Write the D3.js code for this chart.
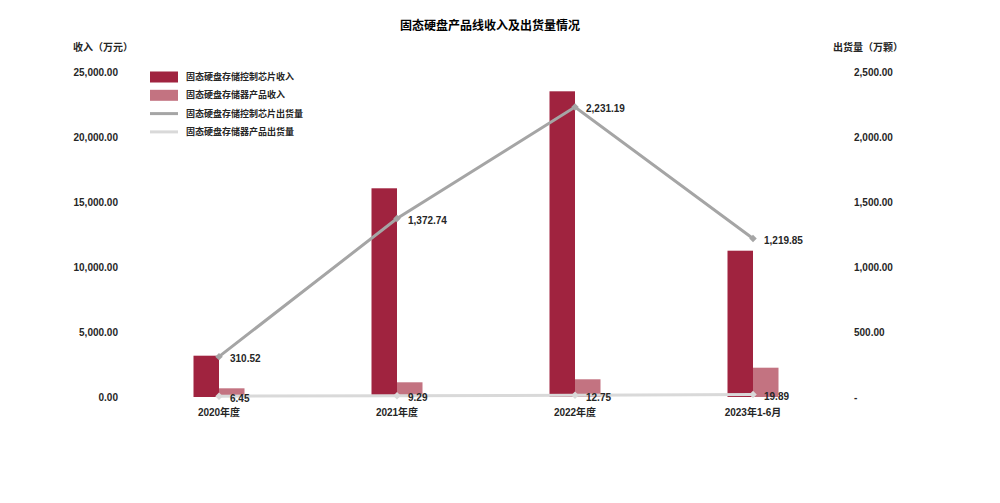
<!DOCTYPE html>
<html>
<head>
<meta charset="utf-8">
<script src="https://cdn.jsdelivr.net/npm/d3@7"></script>
<style>
  body { margin: 0; background: #fff; }
  svg text { font-family: "Liberation Sans", "Noto Sans CJK SC", sans-serif; font-weight: bold; fill: #262626; }
</style>
</head>
<body>
<div id="chart"></div>
<script>
// categories and series
var years = ["2020年度", "2021年度", "2022年度", "2023年1-6月"];
var chipRevenue = [3177, 16054, 23515, 11254];      // 万元
var storageRevenue = [669, 1131, 1362, 2254];       // 万元
var chipShipments = [310.52, 1372.74, 2231.19, 1219.85];   // 万颗
var storageShipments = [6.45, 9.29, 12.75, 19.89];         // 万颗
var leftTicks = [0, 5000, 10000, 15000, 20000, 25000];
var rightTicks = [0, 500, 1000, 1500, 2000, 2500];
var seriesNames = ["固态硬盘存储控制芯片收入", "固态硬盘存储器产品收入", "固态硬盘存储控制芯片出货量", "固态硬盘存储器产品出货量"];

var colDark = "#a0233f", colLight = "#c37381", colGrey = "#a5a5a5", colPale = "#d9d9d9";

var svg = d3.select("#chart").append("svg")
    .attr("width", 1000)
    .attr("height", 503);

var x = d3.scaleBand().domain(years).range([130, 842]).padding(0);
var yL = d3.scaleLinear().domain([0, 25000]).range([397, 72]);
var yR = d3.scaleLinear().domain([0, 2500]).range([397, 72]);
var fmt = d3.format(",.2f");
var barW = 25.5;
function cx(d) { return x(d) + x.bandwidth() / 2; }

// title
svg.append("text").attr("x", 490).attr("y", 30).attr("text-anchor", "middle")
    .style("font-size", "12px").style("fill", "#000").text("固态硬盘产品线收入及出货量情况");

// axis titles
svg.append("text").attr("x", 73).attr("y", 51).style("font-size", "10px").text("收入（万元）");
svg.append("text").attr("x", 833).attr("y", 51).style("font-size", "10px").text("出货量（万颗）");

// axes
var gl = svg.append("g").attr("transform", "translate(118,0)")
    .call(d3.axisLeft(yL).tickValues(leftTicks).tickSize(0).tickPadding(0).tickFormat(fmt));
var gr = svg.append("g").attr("transform", "translate(854,0)")
    .call(d3.axisRight(yR).tickValues(rightTicks).tickSize(0).tickPadding(0)
        .tickFormat(function(d) { return d === 0 ? "-" : fmt(d); }));
var gx = svg.append("g").attr("transform", "translate(0,409)")
    .call(d3.axisBottom(x).tickSize(0).tickPadding(0));
[gl, gr, gx].forEach(function(g) {
    g.select(".domain").remove();
    g.selectAll("text").style("font-size", "10px").style("font-family", null).attr("fill", null);
});

// bars
svg.append("g").selectAll("rect").data(years).join("rect")
    .attr("x", function(d) { return cx(d) - barW; })
    .attr("y", function(d, i) { return yL(chipRevenue[i]); })
    .attr("width", barW)
    .attr("height", function(d, i) { return yL(0) - yL(chipRevenue[i]); })
    .attr("fill", colDark);
svg.append("g").selectAll("rect").data(years).join("rect")
    .attr("x", function(d) { return cx(d); })
    .attr("y", function(d, i) { return yL(storageRevenue[i]); })
    .attr("width", barW)
    .attr("height", function(d, i) { return yL(0) - yL(storageRevenue[i]); })
    .attr("fill", colLight);

// lines with diamond markers and labels
function drawLine(vals, color) {
    var pts = years.map(function(d, i) { return [cx(d), yR(vals[i])]; });
    svg.append("path").datum(pts)
        .attr("d", d3.line())
        .attr("fill", "none")
        .attr("stroke", color)
        .attr("stroke-width", 3);
    svg.append("g").selectAll("path").data(pts).join("path")
        .attr("d", d3.symbol().type(d3.symbolSquare).size(28))
        .attr("transform", function(p) { return "translate(" + p[0] + "," + p[1] + ") rotate(45)"; })
        .attr("fill", color);
    svg.append("g").selectAll("text").data(pts).join("text")
        .attr("x", function(p) { return p[0] + 11; })
        .attr("y", function(p) { return p[1] + 2; })
        .attr("dy", "0.35em")
        .style("font-size", "10px")
        .text(function(p, i) { return fmt(vals[i]); });
}
drawLine(storageShipments, colPale);
drawLine(chipShipments, colGrey);

// legend
var leg = svg.append("g");
seriesNames.forEach(function(name, i) {
    var yy = 77 + i * 18.3;
    if (i < 2) {
        leg.append("rect").attr("x", 150).attr("y", yy - 5.5).attr("width", 28).attr("height", 11)
            .attr("fill", i === 0 ? colDark : colLight);
    } else {
        leg.append("line").attr("x1", 150).attr("x2", 178).attr("y1", yy).attr("y2", yy)
            .attr("stroke", i === 2 ? colGrey : colPale).attr("stroke-width", 3);
    }
    leg.append("text").attr("x", 186).attr("y", yy).attr("dy", "0.35em")
        .style("font-size", "9px").text(name);
});
</script>
</body>
</html>
